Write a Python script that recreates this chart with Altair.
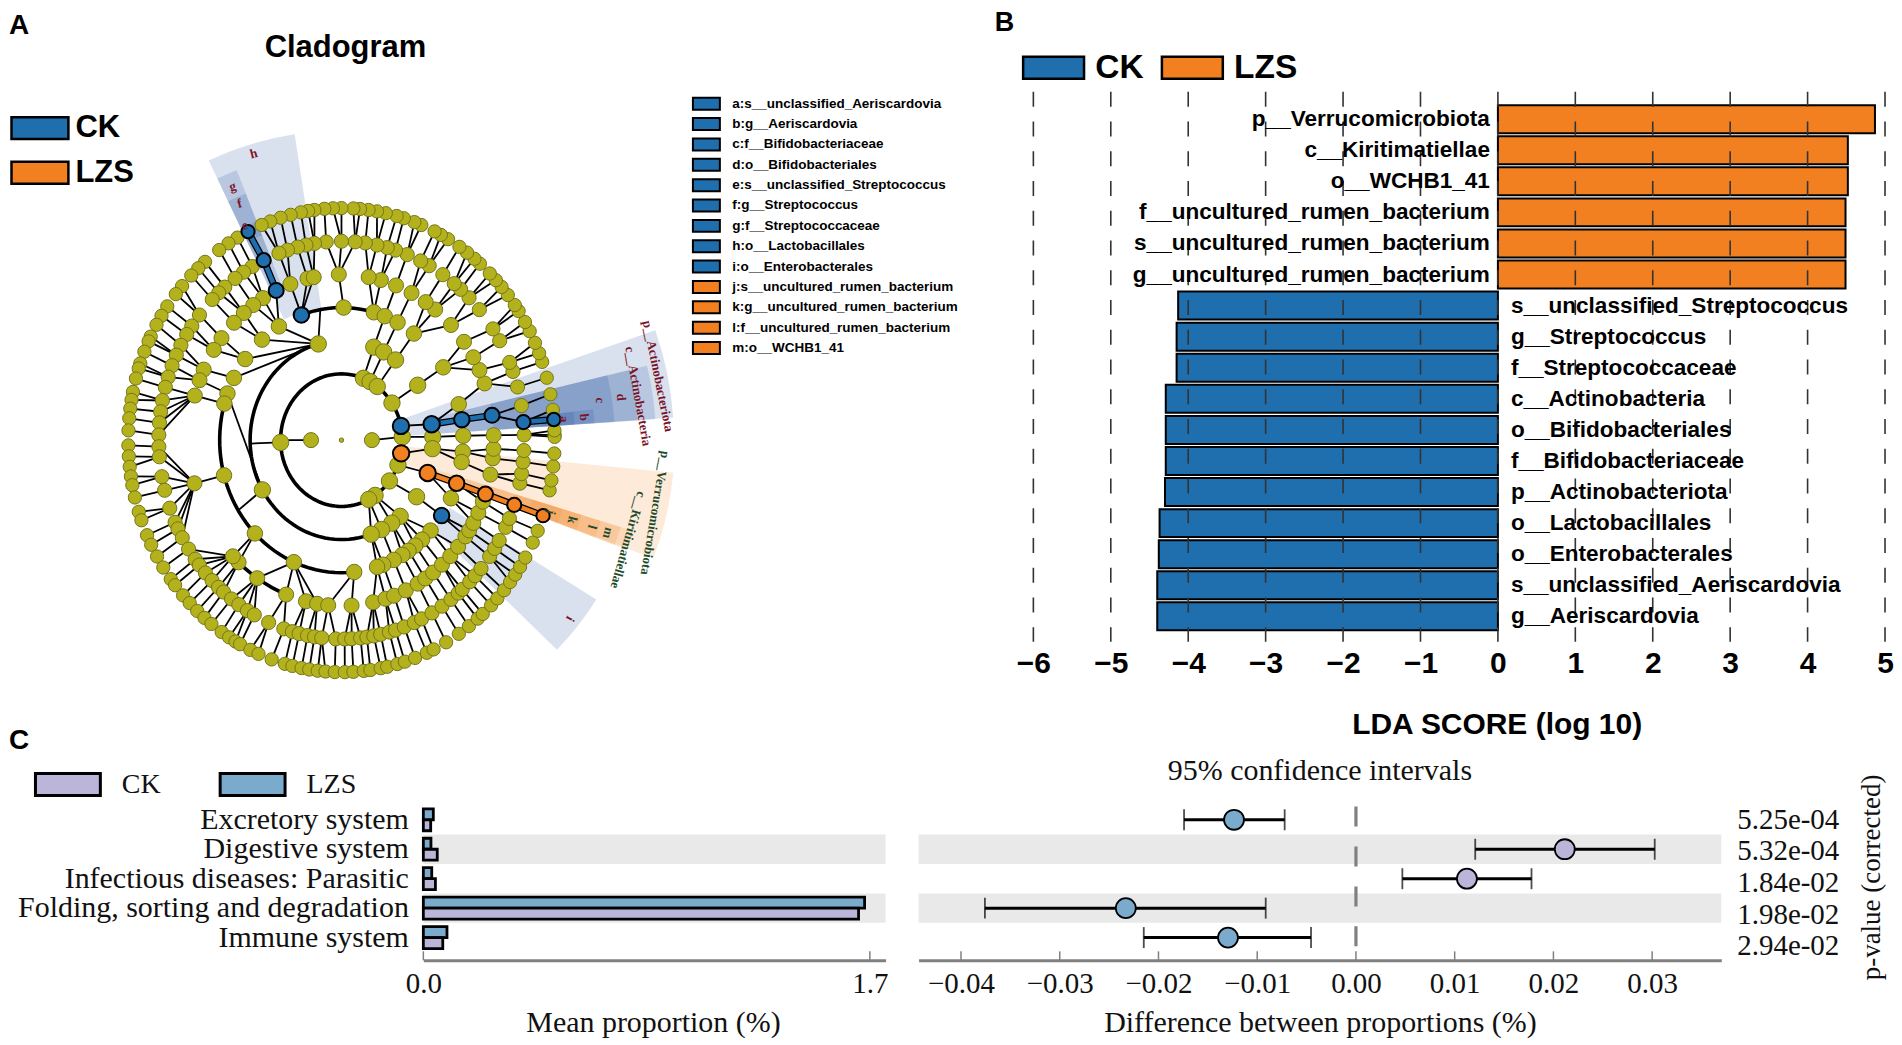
import math
import altair as alt
import pandas as pd

SANS = "Liberation Sans"
SERIF = "Liberation Serif"
BLUE, ORANGE = "#1F6FAE", "#F38020"
PURPLE, STEEL = "#BBB5D9", "#7BABCC"
OLIVE = "#B4B21C"

# ---------- B: LDA scores ----------
lda_names = ["p__Verrucomicrobiota", "c__Kiritimatiellae", "o__WCHB1_41",
             "f__uncultured_rumen_bacterium", "s__uncultured_rumen_bacterium",
             "g__uncultured_rumen_bacterium", "s__unclassified_Streptococcus",
             "g__Streptococcus", "f__Streptococcaceae", "c__Actinobacteria",
             "o__Bifidobacteriales", "f__Bifidobacteriaceae", "p__Actinobacteriota",
             "o__Lactobacillales", "o__Enterobacterales",
             "s__unclassified_Aeriscardovia", "g__Aeriscardovia"]
lda_scores = [4.87, 4.52, 4.52, 4.49, 4.49, 4.49, -4.13, -4.15, -4.15, -4.29, -4.29,
              -4.29, -4.30, -4.37, -4.38, -4.40, -4.40]
lda_ticks = [-6, -5, -4, -3, -2, -1, 0, 1, 2, 3, 4, 5]

# ---------- A: cladogram legend ----------
clade_keys = ["a:s__unclassified_Aeriscardovia", "b:g__Aeriscardovia", "c:f__Bifidobacteriaceae",
              "d:o__Bifidobacteriales", "e:s__unclassified_Streptococcus", "f:g__Streptococcus",
              "g:f__Streptococcaceae", "h:o__Lactobacillales", "i:o__Enterobacterales",
              "j:s__uncultured_rumen_bacterium", "k:g__uncultured_rumen_bacterium",
              "l:f__uncultured_rumen_bacterium", "m:o__WCHB1_41"]
clade_key_colors = [BLUE] * 9 + [ORANGE] * 4

# ---------- A: cladogram nodes, angle in degrees per ring ----------
ring1 = [0, 180]
ring2 = [68.9, 62, 54, 34, 12.4, 2.8, -11.5, -22, -38, -56.5, -63.4, 182]
ring3 = [104.7, 69.3, 62.5, 53.7, 33.5, 9.2, 1.9, -4.9, -19.3, -34.7, -50, -56.6, -64, -71, 210]
ring4 = [109.2, 89, 74.6, 69.2, 62.6, 53.5, 33.3, 15.7, 8.9, 1.9, -5, -9.5, -19, -26, -34.7, -43,
         -48.6, -52.7, -56.6, -60, -64.6, -70, -73, 120.9, 130.7, 142.3, 152, 159.4, 164, 195.4,
         224.7, 247, 276]
ring5 = [195.1, 227.5, 224.5, 236.4, 248.7, 256.5, 260.8, 265, 273.8, 282, -73.2, -69.8, -65, -60,
         -56.6, -53, -48.7, -44.4, -40, -35.5, -33, -30, -26, -21.8, -19, -12, -6.3, -3, 1.7, 8.6,
         20, 25, 30, 36.4, 44, 52, 56.4, 62.6, 69, 75, 79.7, 91, 102.9, 100.5, 109.6, 115.4, 121,
         125.4, 129.9, 134.9, 142, 147, 154.8, 158.8, 164.4]
ring6 = [5.2, 1.5, 10, 15.5, 20.2, 23, 30, 34, 41, 45.7, 49.3, 51.9, 56.3, 61.3, 64.3, 68.9, 72.8,
         75.5, 78.8, 82.5, 85.7, 90, 94.8, 98.5, 101.2, 103.9, 107.2, 110, 115.2, 119.2, 122.4,
         125.6, 129.7, 132.2, 135, 141, 145, 147.9, 151.5, 154.7, 158, 161.5, 164.6, 168.5, 171.8,
         175, 178.5, 181.9, 184.8, 190.6, 194.6, 200, 204.4, 206.5, 209.4, 213.2, 216.8, 218.9,
         221.9, 224.9, 227.7, 229.8, 233, 235.8, 239, 241.5, 246.5, 251.6, 254.4, 256.6, 259.3,
         261.5, 263.8, 268.2, 271, 273.2, -84, -82, -79.8, -77.6, -74.8, -72.8, -69.9, -66.5, -64,
         -60.3, -56.6, -53.2, -50.3, -48.6, -45.4, -43, -40.2, -35.8, -33, -30.3, -26, -23.2, -19,
         -12.5, -9.7, -6.3, -3]
ring7 = [5.1, 1.3, 7.5, 11.4, 15.6, 19.7, 22, 24.8, 28, 30.6, 33.8, 35.6, 38.7, 41.3, 43.6, 45.9,
         49.5, 51.4, 53.9, 56.4, 60, 62.2, 64.1, 68, 70, 73, 75, 78, 80.4, 82.7, 85, 86.8, 90, 92.3,
         94.6, 97.3, 99, 101, 103.8, 106.6, 109.5, 112, 116, 119.2, 122, 125, 129.8, 132.2, 134.8,
         138.4, 141, 144.8, 147.6, 150.2, 153.5, 154.8, 157.6, 160.7, 162, 164.6, 168, 170, 172.2,
         174.6, 177.6, 181.3, 184, 186.6, 189, 191.2, 194.3, 198, 200.2, 204.2, 206.8, 210.1, 213.3,
         216.8, 218.7, 222, 224.6, 227.4, 230, 232.4, 235.8, 238.2, 240.2, 241.6, 244.7, 247.1,
         250.9, 254.6, 256.7, 259.2, 261.3, 263.6, 265.7, 268.2, 270.9, 273.2, -84, -82.2, -79.4,
         -77.6, -74.8, -72.7, -69.8, -66.4, -64.4, -60.6, -56.6, -53.3, -50.3, -48.5, -45.4, -43,
         -40.3, -37.7, -35.4, -33.1, -30.4, -26.2, -23, -19, -12.5, -10, -6.5, -3.3, 0.8, 2.4]
rings = {1: ring1, 2: ring2, 3: ring3, 4: ring4, 5: ring5, 6: ring6, 7: ring7}
ring_diam = {0: 5, 1: 17, 2: 18.5, 3: 18.5, 4: 17.5, 5: 17, 6: 16, 7: 15}

# ring, start and end angle of the heavy arcs
heavy_arcs = [(2, 0, 360), (3, 104.7, 287), (4, 74.6, 109.2), (4, 164, 276), (5, 227.5, 249)]
# paths that carry a class colour: ring and angle per node
blue_paths = [[(3, 9.2), (4, 8.9), (5, 8.6)], [(6, 5.2), (7, 5.1)], [(5, 115.4), (6, 115.2), (7, 116)]]
orange_paths = [[(3, -19.3), (4, -19), (5, -19), (6, -19), (7, -19)]]
blue_nodes = [(2, 12.4), (3, 9.2), (4, 8.9), (5, 8.6), (6, 5.2), (7, 5.1), (4, 109.2), (5, 115.4),
              (6, 115.2), (7, 116), (4, -34.7)]
orange_nodes = [(2, -11.5), (3, -19.3), (4, -19), (5, -19), (6, -19), (7, -19)]

# shaded sectors: colour, lowest angle, highest angle, inner and outer radius
sectors = [("b", 98.7, 115.4, 134, 310), ("b", 111.2, 115.4, 161, 290), ("b", 111.2, 115.4, 190, 265),
           ("b", 111.2, 115.4, 220, 235), ("b", -44.2, -32, 128, 301),
           ("b", 3.9, 19.3, 62, 333), ("b", 3.8, 13.7, 92, 315), ("b", 3.8, 13.7, 122, 297),
           ("b", 3.8, 13.7, 153, 274), ("b", 3.8, 7, 183, 254), ("b", 3.8, 7, 200, 234),
           ("o", -20.8, -5.6, 62, 334), ("o", -21, -17.3, 92, 305), ("o", -21, -17.3, 122, 293),
           ("o", -21, -17.3, 153, 272), ("o", -21, -17.3, 183, 252), ("o", -21, -17.3, 200, 232)]

# ---------- C: STAMP extended error bars ----------
stamp_rows = ["Excretory system", "Digestive system", "Infectious diseases: Parasitic",
              "Folding, sorting and degradation", "Immune system"]
mean_lzs = [0.038, 0.029, 0.032, 1.68, 0.090]
mean_ck = [0.028, 0.053, 0.046, 1.657, 0.074]
diff_mean = [-0.01235, 0.02115, 0.01124, -0.02331, -0.01296]
diff_low = [-0.01741, 0.01208, 0.0047, -0.03758, -0.02149]
diff_high = [-0.00722, 0.03026, 0.01778, -0.00914, -0.00455]
diff_group = ["LZS", "CK", "CK", "LZS", "LZS"]
p_values = ["5.25e-04", "5.32e-04", "1.84e-02", "1.98e-02", "2.94e-02"]
mean_ticks = [0.0, 1.7]
diff_ticks = [-0.04, -0.03, -0.02, -0.01, 0.0, 0.01, 0.02, 0.03]
striped_rows = ["Digestive system", "Folding, sorting and degradation"]

# ---------- layout of the panels (page pixels) ----------
TOP_H = 634
C_Y, C_H = 805, 156
C1_W, C2_X, C2_W = 878, 918, 804
B_W = 968
B_L = 1033 - C2_X
one = pd.DataFrame({"k": [0]})


def note(text, x, y, ox=8, oy=8, size=14, font=SANS, weight="normal", color="black",
         angle=0, align="center"):
    return alt.Chart(one).mark_text(text=text, font=font, fontSize=size, fontWeight=weight,
                                    color=color, angle=angle, align=align, baseline="middle").encode(
        x=alt.value(x - ox), y=alt.value(y - oy))


def swatch(w, h):
    q = w / h
    return f"M{-q},-1H{q}V1H{-q}Z"


# ---------- panel A ----------
PX, PY = 30.5, 33.2
CX, CY = 340 - 8, 440 - 8
xs = alt.Scale(domain=[-CX / PX, (C1_W - CX) / PX], nice=False, zero=False)
ys = alt.Scale(domain=[-(TOP_H - CY) / PY, CY / PY], nice=False, zero=False)
X = alt.X("x:Q", scale=xs, axis=None)
Y = alt.Y("y:Q", scale=ys, axis=None)


def polar(r, a):
    t = math.radians(a)
    return r * math.cos(t), r * math.sin(t)


def nearest(a, cands):
    return min(cands, key=lambda c: abs((a - c + 180) % 360 - 180))


def on_heavy(r, a):
    for rr, s, e in heavy_arcs:
        if rr == r and s <= a % 360 <= e:
            return True
        if rr == r and s <= (a % 360) + 360 <= e:
            return True
    return False


edges = []
for r in range(2, 8):
    for a in rings[r]:
        if on_heavy(r, a) and r <= 4:
            continue
        p = nearest(a, rings[r - 1])
        x1, y1 = polar(r - 1, p)
        x2, y2 = polar(r, a)
        edges.append(dict(x=x1, y=y1, x2=x2, y2=y2))
for r0, a0, r1, a1 in [(1, 180, 2, 180), (1, 0, 2, 2.8), (2, 182, 3, 182), (3, 104.7, 4, 100),
                       (3, 210, 4, 212)]:
    x1, y1 = polar(r0, a0)
    x2, y2 = polar(r1, a1)
    edges.append(dict(x=x1, y=y1, x2=x2, y2=y2))
edges = pd.DataFrame(edges)

arc_rows = []
for i, (r, s, e) in enumerate(heavy_arcs):
    n = max(2, int((e - s) / 3))
    for j in range(n + 1):
        px, py = polar(r, s + (e - s) * j / n)
        arc_rows.append(dict(arc=i, o=j, x=px, y=py))
arc_df = pd.DataFrame(arc_rows)


def node_frame(pairs):
    rows = []
    for r, a in pairs:
        px, py = polar(r, a)
        rows.append(dict(x=px, y=py, s=math.pi / 4 * ring_diam[r] ** 2))
    return pd.DataFrame(rows)


olive_pairs = [(0, 0)] + [(r, a) for r in range(7, 0, -1) for a in rings[r]]
olive_df = node_frame(olive_pairs)
blue_df = node_frame(blue_nodes)
orange_df = node_frame(orange_nodes)


def path_frame(paths):
    rows = []
    for i, p in enumerate(paths):
        for (r0, a0), (r1, a1) in zip(p[:-1], p[1:]):
            x1, y1 = polar(r0, a0)
            x2, y2 = polar(r1, a1)
            rows.append(dict(x=x1, y=y1, x2=x2, y2=y2))
    return pd.DataFrame(rows)


sec_df = pd.DataFrame([dict(cx=0, cy=0, c=c, t0=math.radians(90 - hi), t1=math.radians(90 - lo), r0=r0, r1=r1)
                       for c, lo, hi, r0, r1 in sectors])


def sector_layer(code, color):
    return alt.Chart(sec_df[sec_df.c == code]).mark_arc(color=color, opacity=0.17).encode(
        x=alt.X("cx:Q", scale=xs, axis=None), y=alt.Y("cy:Q", scale=ys, axis=None),
        theta=alt.Theta("t0:Q", scale=None), theta2="t1:Q",
        radius=alt.Radius("r1:Q", scale=None), radius2="r0:Q")


def seg(df, color, width):
    return alt.Chart(df).mark_rule(color=color, strokeWidth=width).encode(x=X, y=Y, x2="x2:Q", y2="y2:Q")


def nodes(df, fill, stroke, width):
    return alt.Chart(df).mark_point(filled=True, fill=fill, stroke=stroke, strokeWidth=width, opacity=1).encode(
        x=X, y=Y, size=alt.Size("s:Q", scale=None, legend=None))


group_legend_a = alt.Chart(pd.DataFrame({"g": ["CK", "LZS"]})).mark_point(opacity=0, filled=True).encode(
    x=alt.value(100), y=alt.value(100),
    fill=alt.Fill("g:N", scale=alt.Scale(domain=["CK", "LZS"], range=[BLUE, ORANGE]),
                  legend=alt.Legend(title=None, orient="none", legendX=14.5, legendY=104, padding=0,
                                    symbolType=swatch(57, 22), symbolSize=484, symbolOpacity=1,
                                    symbolStrokeColor="black", symbolStrokeWidth=2.5,
                                    labelFont=SANS, labelFontWeight="bold", labelFontSize=31,
                                    labelColor="black", labelOffset=20, rowPadding=11.6)))
key_legend_a = alt.Chart(pd.DataFrame({"g": clade_keys})).mark_point(opacity=0, filled=True).encode(
    x=alt.value(100), y=alt.value(100),
    fill=alt.Fill("g:N", scale=alt.Scale(domain=clade_keys, range=clade_key_colors),
                  legend=alt.Legend(title=None, orient="none", legendX=690.5, legendY=88, padding=0,
                                    symbolType=swatch(27, 12), symbolSize=144, symbolOpacity=1,
                                    symbolStrokeColor="black", symbolStrokeWidth=2,
                                    labelFont=SANS, labelFontWeight="bold", labelFontSize=13.5,
                                    labelColor="black", labelOffset=19, rowPadding=0.4,
                                    symbolLimit=0, labelLimit=400)))

MAROON, GREEN = "#7A1428", "#1E4A2C"
a_notes = [
    note("A", 17, 25, size=28, weight="bold"), note("B", 1004, 22, size=27, weight="bold"),
    note("Cladogram", 344, 47, size=31, weight="bold"),
    note("h", 252, 153, size=13, font=SERIF, weight="bold", color=MAROON, angle=345),
    note("g", 231, 186, size=13, font=SERIF, weight="bold", color=MAROON, angle=345),
    note("f", 238, 203, size=13, font=SERIF, weight="bold", color=MAROON, angle=345),
    note("e", 243, 225, size=13, font=SERIF, weight="bold", color=MAROON, angle=345),
    note("i", 569, 619, size=13, font=SERIF, weight="bold", color=MAROON, angle=120),
    note("a", 563, 419, size=13, font=SERIF, weight="bold", color=MAROON, angle=85),
    note("b", 583, 417, size=13, font=SERIF, weight="bold", color=MAROON, angle=85),
    note("c", 599, 400, size=13, font=SERIF, weight="bold", color=MAROON, angle=85),
    note("d", 620, 397, size=13, font=SERIF, weight="bold", color=MAROON, angle=85),
    note("j", 550, 512, size=13, font=SERIF, weight="bold", color=GREEN, angle=105),
    note("k", 571, 520, size=13, font=SERIF, weight="bold", color=GREEN, angle=105),
    note("l", 591, 527, size=13, font=SERIF, weight="bold", color=GREEN, angle=105),
    note("m", 607, 533, size=13, font=SERIF, weight="bold", color=GREEN, angle=105),
    note("p__Actinobacteriota", 657, 376, size=13, font=SERIF, weight="bold", color=MAROON, angle=78.5),
    note("c__Actinobacteria", 637, 396, size=13, font=SERIF, weight="bold", color=MAROON, angle=79.8),
    note("p__Verrucomicrobiota", 654, 513, size=13, font=SERIF, weight="bold", color=GREEN, angle=99.5),
    note("c__Kiritimatiellae", 627, 540, size=13, font=SERIF, weight="bold", color=GREEN, angle=105.8),
]

panel_a = alt.layer(
    sector_layer("b", "#1F4E9A"), sector_layer("o", "#F58220"),
    seg(edges, "black", 1.8),
    alt.Chart(arc_df).mark_line(color="black", strokeWidth=3.6).encode(x=X, y=Y, detail="arc:N", order="o:Q"),
    nodes(olive_df, OLIVE, "#74741A", 1),
    seg(path_frame(blue_paths), "black", 7), seg(path_frame(orange_paths), "black", 7),
    seg(path_frame(blue_paths), BLUE, 4.5), seg(path_frame(orange_paths), ORANGE, 4.5),
    nodes(blue_df, BLUE, "black", 2), nodes(orange_df, ORANGE, "black", 2),
    group_legend_a, key_legend_a, *a_notes,
).resolve_scale(fill="independent").properties(width=C1_W, height=TOP_H)

# ---------- panel B ----------
lda = pd.DataFrame({"name": lda_names, "score": lda_scores,
                    "g": ["LZS" if s > 0 else "CK" for s in lda_scores], "zero": 0})
lx = alt.Scale(domain=[-6, 5], range=[B_L, B_W], nice=False, zero=False)
ly = alt.Y("name:N", sort=lda_names, axis=None,
           scale=alt.Scale(domain=lda_names, range=[96.5, 622.5], paddingInner=0.1, paddingOuter=0))
lda_axis = alt.Axis(
    values=lda_ticks, domain=False, ticks=False, grid=False, labelFlush=False, labelFont=SANS, labelFontWeight="bold",
    labelFontSize=30, labelColor="black", labelPadding=7, title="LDA SCORE (log 10)", titleFont=SANS,
    titleFontWeight="bold", titleFontSize=30, titleColor="black", titleX=B_L + 464, titleY=83,
    titleBaseline="middle")
bars_b = alt.Chart(lda).mark_bar(stroke="black", strokeWidth=2).encode(
    x=alt.X("score:Q", scale=lx, axis=lda_axis),
    x2=alt.X2("zero:Q"), y=ly,
    fill=alt.Fill("g:N", scale=alt.Scale(domain=["CK", "LZS"], range=[BLUE, ORANGE]),
                  legend=alt.Legend(title=None, orient="none", legendX=B_L + 3.5, legendY=42, padding=0,
                                    direction="horizontal", columns=2,
                                    symbolType=swatch(61, 22), symbolSize=484, symbolOpacity=1,
                                    symbolStrokeColor="black", symbolStrokeWidth=2.5,
                                    labelFont=SANS, labelFontWeight="bold", labelFontSize=33.5,
                                    labelColor="black", labelOffset=25, columnPadding=13)))
grid_b = alt.Chart(pd.DataFrame({"t": lda_ticks})).mark_rule(
    color="#333333", strokeWidth=1.6, strokeDash=[15, 14.8]).encode(
    x=alt.X("t:Q", scale=lx, axis=lda_axis), y=alt.value(83), y2=alt.value(634))
text_pos = alt.Chart(lda[lda.score > 0]).mark_text(
    align="right", dx=-8, font=SANS, fontWeight="bold", fontSize=22.6, color="black").encode(
    x=alt.X("zero:Q", scale=lx, axis=lda_axis), y=ly, text="name:N")
text_neg = alt.Chart(lda[lda.score < 0]).mark_text(
    align="left", dx=13, font=SANS, fontWeight="bold", fontSize=22.6, color="black").encode(
    x=alt.X("zero:Q", scale=lx, axis=lda_axis), y=ly, text="name:N")
panel_b = alt.layer(bars_b, grid_b, text_pos, text_neg).properties(width=B_W, height=TOP_H)

# ---------- panel C, left ----------
row_scale = alt.Scale(domain=stamp_rows, range=[0.5, 148], paddingInner=0, paddingOuter=0)
stripe_df = pd.DataFrame({"row": striped_rows, "a": 0.0, "b": 1.76})
means = pd.DataFrame({"row": stamp_rows * 2, "v": mean_lzs + mean_ck, "g": ["LZS"] * 5 + ["CK"] * 5})
m_scale = alt.Scale(domain=[0, 1.76], range=[414, 877], nice=False, zero=False)
serif_axis = dict(labelFont=SERIF, labelFontSize=29, labelColor="#111111", titleFont=SERIF, titleFontSize=30,
                  titleFontWeight="normal", titleColor="#111111", domainColor="#808080", domainWidth=3,
                  ticks=False, grid=False, labelPadding=9, labelFlush=False)
m_axis = alt.Axis(values=mean_ticks, format=".1f", title="Mean proportion (%)", titleX=644, titleY=62,
                  titleBaseline="middle", **serif_axis)
row_axis = alt.Axis(title=None, domain=False, ticks=False, grid=False, offset=-399, labelPadding=0, labelFont=SERIF,
                    labelFontSize=30, labelColor="#111111", labelLimit=500)
stripes_m = alt.Chart(stripe_df).mark_rect(color="#E9E9E9").encode(
    x=alt.X("a:Q", scale=m_scale, axis=m_axis), x2="b:Q",
    y=alt.Y("row:N", sort=stamp_rows, scale=row_scale, axis=row_axis))
bars_m = alt.Chart(means).mark_bar(stroke="black", strokeWidth=2.8).encode(
    x=alt.X("v:Q", scale=m_scale, axis=m_axis),
    y=alt.Y("row:N", sort=stamp_rows, scale=row_scale, axis=row_axis),
    yOffset=alt.YOffset("g:N", sort=["LZS", "CK"], scale=alt.Scale(domain=["LZS", "CK"], paddingOuter=0.34, paddingInner=0)),
    fill=alt.Fill("g:N", scale=alt.Scale(domain=["CK", "LZS"], range=[PURPLE, STEEL]),
                  legend=alt.Legend(title=None, orient="none", legendX=44, legendY=-34, padding=0,
                                    direction="horizontal", columns=2,
                                    symbolType=swatch(65, 22), symbolSize=484, symbolOpacity=1,
                                    symbolStrokeColor="black", symbolStrokeWidth=3,
                                    labelFont=SERIF, labelFontSize=28, labelColor="#111111",
                                    labelOffset=40, columnPadding=53)))
ticks_m = alt.Chart(pd.DataFrame({"t": mean_ticks})).mark_rule(color="#808080", strokeWidth=1.5).encode(
    x=alt.X("t:Q", scale=m_scale, axis=m_axis), y=alt.value(C_H - 9), y2=alt.value(C_H))
c_letter = note("C", 17, 741, ox=8, oy=C_Y, size=28, weight="bold")
panel_c1 = alt.layer(stripes_m, bars_m, ticks_m, c_letter).properties(width=C1_W, height=C_H)

# ---------- panel C, right ----------
d_scale = alt.Scale(domain=[-0.0443, 0.0370], nice=False, zero=False)
d_axis = alt.Axis(values=diff_ticks, format=".2f", title="Difference between proportions (%)", titleY=62,
                  titleBaseline="middle", **serif_axis)
d_row = alt.Y("row:N", sort=stamp_rows, scale=row_scale, axis=None)
diff = pd.DataFrame({"row": stamp_rows, "m": diff_mean, "lo": diff_low, "hi": diff_high, "g": diff_group, "p": p_values})
stripe_d = pd.DataFrame({"row": striped_rows, "a": -0.0443, "b": 0.0370})
stripes_d = alt.Chart(stripe_d).mark_rect(color="#E9E9E9").encode(
    x=alt.X("a:Q", scale=d_scale, axis=d_axis), x2="b:Q", y=d_row)
zero_d = alt.Chart(pd.DataFrame({"z": [0.0]})).mark_rule(color="#808080", strokeWidth=3.2, strokeDash=[20, 20]).encode(
    x=alt.X("z:Q", scale=d_scale, axis=d_axis), y=alt.value(2), y2=alt.value(144))
ticks_d = alt.Chart(pd.DataFrame({"t": diff_ticks})).mark_rule(color="#808080", strokeWidth=1.5).encode(
    x=alt.X("t:Q", scale=d_scale, axis=d_axis), y=alt.value(C_H - 9), y2=alt.value(C_H))
ci = alt.Chart(diff).mark_rule(color="black", strokeWidth=3).encode(
    x=alt.X("lo:Q", scale=d_scale, axis=d_axis), x2="hi:Q", y=d_row)
cap_lo = alt.Chart(diff).mark_tick(color="black", thickness=1.8, size=21).encode(
    x=alt.X("lo:Q", scale=d_scale, axis=d_axis), y=d_row)
cap_hi = alt.Chart(diff).mark_tick(color="black", thickness=1.8, size=21).encode(
    x=alt.X("hi:Q", scale=d_scale, axis=d_axis), y=d_row)
pts = alt.Chart(diff).mark_point(filled=True, stroke="black", strokeWidth=1.8, opacity=1, size=400).encode(
    x=alt.X("m:Q", scale=d_scale, axis=d_axis), y=d_row,
    fill=alt.Fill("g:N", scale=alt.Scale(domain=["CK", "LZS"], range=[PURPLE, STEEL]), legend=None))
p_text = alt.Chart(diff).mark_text(font=SERIF, fontSize=29, color="#111111", align="left").encode(
    x=alt.value(1738 - C2_X),
    y=alt.Y("row:N", sort=stamp_rows, axis=None,
            scale=alt.Scale(type="point", domain=stamp_rows, range=[15, 142], padding=0)),
    text="p:N")
panel_c2 = alt.layer(
    stripes_d, zero_d, ticks_d, ci, cap_lo, cap_hi, pts, p_text,
    note("95% confidence intervals", 1320, 771, ox=C2_X, oy=C_Y, size=30, font=SERIF, color="#111111"),
    note("p-value (corrected)", 1873, 878, ox=C2_X, oy=C_Y, size=27, font=SERIF, color="#111111", angle=270),
).resolve_scale(y="independent").properties(width=C2_W, height=C_H)

chart = alt.concat(panel_a, panel_b, panel_c1, panel_c2, columns=2, spacing={"row": C_Y - 642, "column": 32},
                   bounds="flush", align="none").resolve_scale(fill="independent").properties(padding=0).configure_view(stroke=None)
chart.save("out.html", embed_options={"renderer": "svg", "actions": False})
